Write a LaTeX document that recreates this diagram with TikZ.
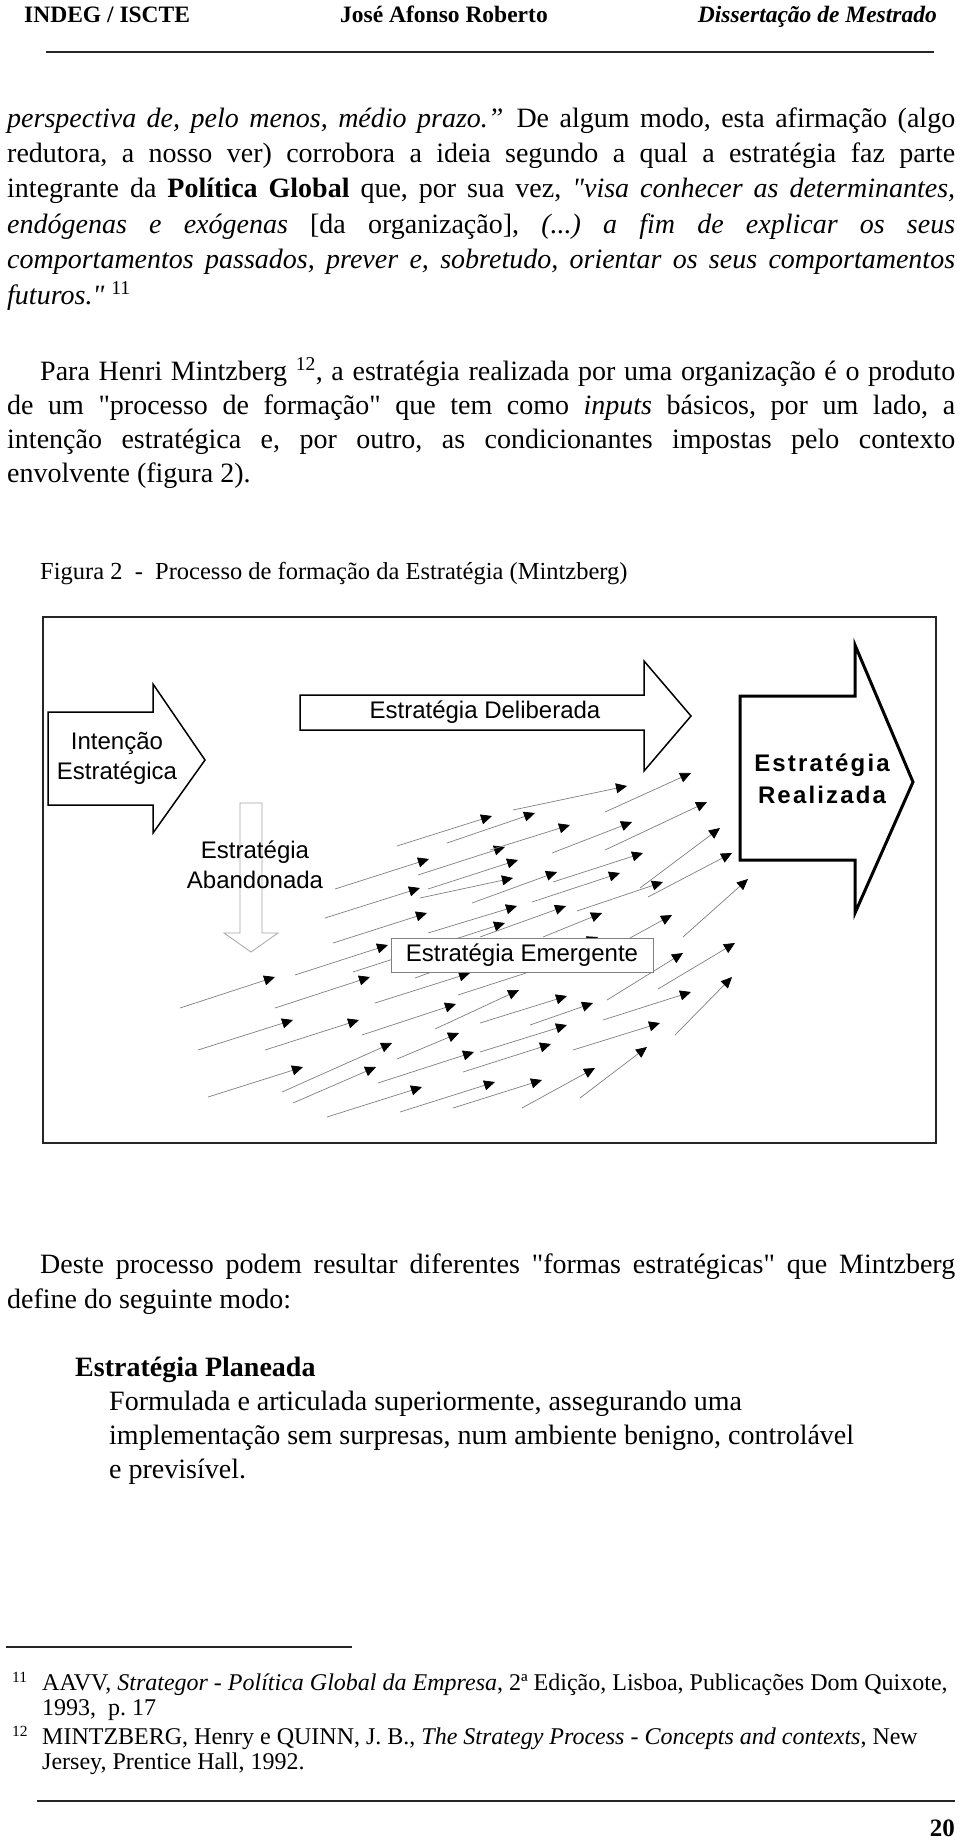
\documentclass[tikz,border=0pt]{standalone}
\usepackage{fontspec}
\setmainfont{Liberation Serif}[Ligatures=TeXOff]
\newfontfamily\diagfont{Liberation Sans}
\newfontfamily\realfont[LetterSpace=9]{Liberation Sans Bold}
\usetikzlibrary{arrows.meta}
\frenchspacing
\newcommand{\jfull}[1]{\makebox[948pt][s]{\frenchspacing\spaceskip=7pt plus 1fil minus 3pt\relax #1}}
\newcommand{\jind}[1]{\makebox[915pt][s]{\frenchspacing\spaceskip=7pt plus 1fil minus 3pt\relax #1}}
\begin{document}
\begin{tikzpicture}[x=1pt,y=-1pt,
  body/.style={anchor=base west, inner sep=0pt, font=\fontsize{28}{34}\selectfont},
  hdr/.style={anchor=base west, inner sep=0pt, font=\fontsize{23.5}{28}\selectfont\bfseries},
  foot/.style={anchor=base west, inner sep=0pt, font=\fontsize{24}{25}\selectfont},
  fmark/.style={anchor=base west, inner sep=0pt, font=\fontsize{15.5}{15}\selectfont},
  rulel/.style={line width=1.2pt, draw=black!85},
  bigarrow/.style={draw=black, line width=1.5pt, fill=white, line join=miter},
  dtext/.style={inner sep=0pt, align=center, font=\diagfont\fontsize{24}{30}\selectfont},
  emarrow/.style={draw=black!50, line width=0.7pt, -{Triangle[length=11pt,width=10pt,color=black]}}
]
\useasboundingbox (0,0) rectangle (960,1842);
\fill[white] (0,0) rectangle (960,1842);

% ---------- header ----------
\node[hdr] (h1) at (24,22) {INDEG / ISCTE};
\node[hdr] (h2) at (340,22) {José Afonso Roberto};
\node[hdr, anchor=base east] (h3) at (937,22) {\itshape Dissertação de Mestrado};
\draw[rulel] (46,52) -- (934,52);

% ---------- paragraph 1 ----------
\node[body] (p1) at (7,127) {\jfull{\textit{perspectiva de, pelo menos, médio prazo.”}\hspace{13pt}De algum modo, esta afirmação (algo}};
\node[body] (p2) at (7,162) {\jfull{redutora, a nosso ver) corrobora a ideia segundo a qual a estratégia faz parte}};
\node[body] (p3) at (7,197) {\jfull{integrante da \textbf{Política Global} que, por sua vez, \textit{"visa conhecer as determinantes,}}};
\node[body] (p4) at (7,233) {\jfull{\textit{endógenas e exógenas} [da organização], \textit{(...) a fim de explicar os seus}}};
\node[body] (p5) at (7,268) {\jfull{\textit{comportamentos passados, prever e, sobretudo, orientar os seus comportamentos}}};
\node[body] (p6) at (7,304) {\textit{futuros."} \textsuperscript{11}};

% ---------- paragraph 2 ----------
\node[body] (q1) at (40,380) {\jind{Para Henri Mintzberg \textsuperscript{12}, a estratégia realizada por uma organização é o produto}};
\node[body] (q2) at (7,414) {\jfull{de um "processo de formação" que tem como \textit{inputs} básicos, por um lado, a}};
\node[body] (q3) at (7,448) {\jfull{intenção estratégica e, por outro, as condicionantes impostas pelo contexto}};
\node[body] (q4) at (7,482) {envolvente (figura 2).};

% ---------- caption ----------
\node[body, font=\fontsize{24.5}{30}\selectfont] (cap) at (40,579) {Figura 2\ \ -\ \ Processo de formação da Estratégia (Mintzberg)};

% ---------- diagram ----------
\draw[line width=1.5pt, draw=black!85] (43,617) rectangle (936,1143);

% abandoned strategy arrow (light outline)
\draw[draw=black!35, line width=0.8pt] (240,803) -- (262,803) -- (262,933) -- (278,933) -- (251,952) -- (224,933) -- (240,933) -- cycle;
\node[dtext] (aband) at (255,865) {Estratégia\\Abandonada};

% emergent arrows
\foreach \xa/\ya/\xb/\yb in {
 397/846/492/816, 447/843/535/813, 335/889/429/859, 418/875/505/847,
 325/918/420/888, 428/889/518/860, 333/943/427/913, 472/903/557/872,
 428/933/517/906, 295/975/388/945, 353/972/505/923, 180/1008/275/977,
 275/1008/370/977, 375/1003/470/973, 415/978/520/940, 458/995/560/962,
 198/1050/293/1020, 265/1050/359/1020, 362/1035/456/1004, 435/1029/519/990,
 480/1023/567/996, 397/1059/459/1033, 282/1092/392/1043, 208/1097/303/1067,
 293/1103/376/1067, 378/1083/474/1052, 480/1052/567/1025, 463/1072/551/1044,
 327/1117/422/1087, 400/1112/495/1082, 453/1108/542/1080, 513/810/627/786,
 605/812/691/773, 490/850/570/825, 552/853/632/822, 605/850/707/802,
 553/882/643/853, 532/902/620/873, 640/888/720/828, 648/897/732/853,
 577/911/663/882, 683/937/748/879, 420/898/513/878, 480/937/566/906,
 543/937/602/913, 630/938/672/915, 607/1000/683/953, 658/989/735/943,
 675/1035/732/977, 530/1025/593/1003, 603/1020/691/992, 573/1050/660/1023,
 580/1098/647/1047, 522/1108/595/1068, 540/960/598/937}
  \draw[emarrow] (\xa,\ya) -- (\xb,\yb);

\node[draw=black!50, line width=0.8pt, fill=white, minimum width=262pt, minimum height=34pt, inner sep=0pt, font=\diagfont\fontsize{24}{30}\selectfont] (emerg) at (522,955) {Estratégia Emergente};

% intention
\draw[bigarrow] (48,712) -- (153,712) -- (153,684) -- (205,760) -- (153,833) -- (153,805) -- (48,805) -- cycle;
\node[dtext] (inten) at (117,758) {Intenção\\Estratégica};

% deliberate
\draw[bigarrow] (300,695) -- (644,695) -- (644,661) -- (691,716) -- (644,771) -- (644,730) -- (300,730) -- cycle;
\node[dtext] (delib) at (485,712) {Estratégia Deliberada};

% realized
\draw[bigarrow, line width=3pt] (740,696) -- (855,696) -- (855,645) -- (913,782) -- (855,913) -- (855,860) -- (740,860) -- cycle;
\node[dtext, font=\realfont\fontsize{24}{32}\selectfont] (realiz) at (822,779) {Estratégia\\Realizada};

% ---------- paragraph 3 ----------
\node[body] (r1) at (40,1273) {\jind{Deste processo podem resultar diferentes "formas estratégicas" que Mintzberg}};
\node[body] (r2) at (7,1308) {define do seguinte modo:};
\node[body] (r3) at (75,1376) {\textbf{Estratégia Planeada}};
\node[body] (r4) at (109,1410) {Formulada e articulada superiormente, assegurando uma};
\node[body] (r5) at (109,1444) {implementação sem surpresas, num ambiente benigno, controlável};
\node[body] (r6) at (109,1478) {e previsível.};

% ---------- footnotes ----------
\draw[rulel] (6,1647) -- (352,1647);
\node[fmark] (m11) at (12,1682) {11};
\node[foot] (f1) at (42,1690) {AAVV, \textit{Strategor - Política Global da Empresa}, 2ª Edição, Lisboa, Publicações Dom Quixote,};
\node[foot] (f2) at (42,1715) {1993,\ \ p. 17};
\node[fmark] (m12) at (12,1736) {12};
\node[foot] (f3) at (42,1744) {MINTZBERG, Henry e QUINN, J. B., \textit{The Strategy Process - Concepts and contexts}, New};
\node[foot] (f4) at (42,1769) {Jersey, Prentice Hall, 1992.};

\draw[rulel] (37,1801) -- (955,1801);
\node[anchor=base east, inner sep=0pt, font=\fontsize{25}{25}\selectfont\bfseries] (pg) at (955,1836) {20};
\end{tikzpicture}
\end{document}
